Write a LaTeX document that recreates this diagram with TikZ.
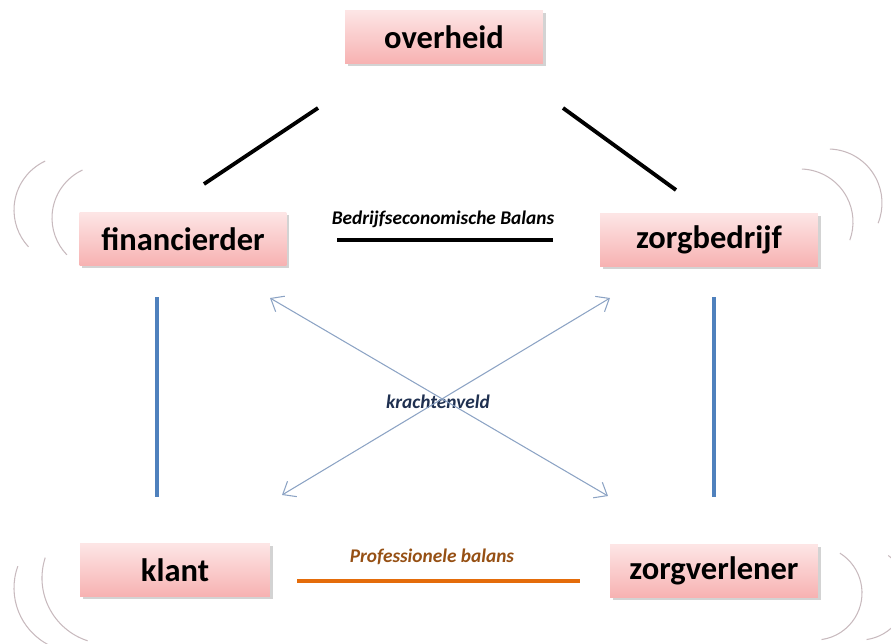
\documentclass[tikz,border=0pt]{standalone}
\usepackage{fontspec}
\setmainfont{Carlito}
\usepackage{tikz}
\usetikzlibrary{shadows,arrows.meta}
\definecolor{boxtop}{RGB}{253,229,229}
\definecolor{boxbottom}{RGB}{247,178,178}
\definecolor{relblue}{RGB}{79,129,189}
\definecolor{relorange}{RGB}{228,108,10}
\definecolor{forcegray}{RGB}{140,163,196}
\definecolor{forcetext}{RGB}{31,48,80}
\definecolor{proftext}{RGB}{150,80,20}
\definecolor{wavegray}{RGB}{200,186,190}

\begin{document}
\begin{tikzpicture}[x=0.02cm,y=0.02cm,
	actor/.style={shape=rectangle,top color=boxtop,bottom color=boxbottom,minimum height=1.06cm,
		font=\fontsize{18.5}{22}\selectfont\bfseries,
		drop shadow={shadow xshift=1.5pt,shadow yshift=-1.5pt,opacity=0.35}},
	balans/.style={font=\fontsize{11}{13}\selectfont\bfseries\itshape},
	wave/.style={draw=wavegray,line width=0.6pt},
	force/.style={draw=forcegray,line width=0.6pt,{Straight Barb[length=2.2mm,width=3.6mm]}-{Straight Barb[length=2.2mm,width=3.6mm]}}]
	\clip (0,0) rectangle (891,-643);

	\node[actor,minimum width=3.96cm] (overheid)     at (444,-37)  {overheid};
	\node[actor,minimum width=4.14cm] (financierder) at (183,-239) {financierder};
	\node[actor,minimum width=4.36cm] (zorgbedrijf)  at (709,-240) {zorgbedrijf};
	\node[actor,minimum width=3.80cm] (klant)        at (175,-570) {klant};
	\node[actor,minimum width=4.16cm] (zorgverlener) at (714,-571) {zorgverlener};

	\node[balans] (bedrijfslabel) at (443,-219) {Bedrijfseconomische Balans};
	\node[balans,text=forcetext] (krachtenveld) at (438,-402) {krachtenveld};
	\node[balans,text=proftext] (proflabel) at (432,-557) {Professionele balans};

	\coordinate (ov-l)  at (318,-108);
	\coordinate (fin-t) at (204,-184);
	\coordinate (ov-r)  at (563,-108);
	\coordinate (zb-t)  at (676,-190);
	\coordinate (be-l)  at (337,-240);
	\coordinate (be-r)  at (553,-240);
	\coordinate (fin-b) at (157,-297);
	\coordinate (kl-t)  at (157,-497);
	\coordinate (zb-b)  at (714,-297);
	\coordinate (zv-t)  at (714,-497);
	\coordinate (pr-l)  at (297,-581);
	\coordinate (pr-r)  at (580,-581);
	\coordinate (kr-fin) at (270,-298);
	\coordinate (kr-zv)  at (608,-496);
	\coordinate (kr-zb)  at (610,-298);
	\coordinate (kr-kl)  at (282,-495);

	\draw[line width=2.2pt,black] (ov-l) -- (fin-t);
	\draw[line width=2.2pt,black] (ov-r) -- (zb-t);
	\draw[line width=2.2pt,black] (be-l) -- (be-r);
	\draw[line width=2pt,relblue] (fin-b) -- (kl-t);
	\draw[line width=2pt,relblue] (zb-b) -- (zv-t);
	\draw[line width=2.6pt,relorange] (pr-l) -- (pr-r);
	\draw[force] (kr-fin) -- (kr-zv);
	\draw[force] (kr-zb) -- (kr-kl);

	\draw[wave] ([shift={(115:53)}]105,-218) arc[start angle=115,end angle=224,radius=53];
	\draw[wave] ([shift={(115:54)}]68,-210) arc[start angle=115,end angle=223,radius=54];
	\draw[wave] ([shift={(88:53)}]800,-222) arc[start angle=88,end angle=-20,radius=53];
	\draw[wave] ([shift={(88:54)}]828,-203) arc[start angle=88,end angle=-22,radius=54];
	\draw[wave] ([shift={(162:66)}]108,-578) arc[start angle=162,end angle=252,radius=66];
	\draw[wave] ([shift={(160:64)}]78,-588) arc[start angle=160,end angle=243,radius=64];
	\draw[wave] ([shift={(58:47)}]815,-593) arc[start angle=58,end angle=-82,radius=47];
	\draw[wave] ([shift={(53:47)}]860,-593) arc[start angle=53,end angle=-82,radius=47];
\end{tikzpicture}
\end{document}
